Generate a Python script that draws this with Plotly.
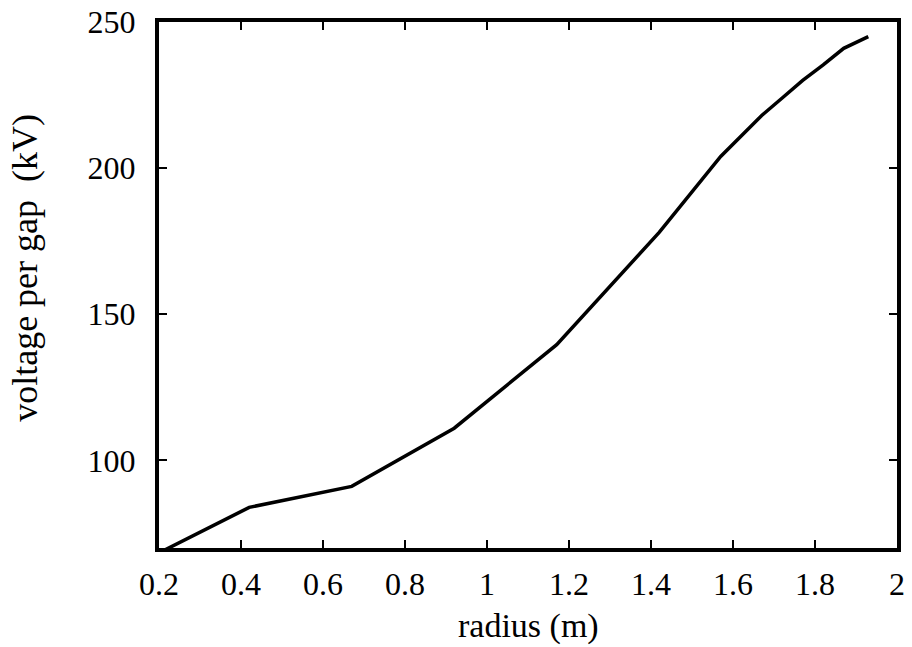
import plotly.graph_objects as go

radius = [0.17, 0.42, 0.67, 0.92, 1.17, 1.42, 1.57, 1.62, 1.67, 1.72, 1.77, 1.82, 1.87, 1.93]
voltage = [66.2, 83.9, 91.1, 111.0, 139.6, 178.0, 204.0, 211.0, 218.0, 224.0, 230.0, 235.3, 241.0, 245.0]

x_ticks = [0.2, 0.4, 0.6, 0.8, 1, 1.2, 1.4, 1.6, 1.8, 2]
y_ticks = [100, 150, 200, 250]

x_title = "radius (m)"
y_title = "voltage per gap\u00a0 (kV)"

FONT = "'Liberation Serif', 'Times New Roman', 'DejaVu Serif', serif"

fig = go.Figure()
fig.add_trace(go.Scatter(x=radius, y=voltage, mode="lines",
                         line=dict(color="black", width=3.5), showlegend=False))

axis_common = dict(showgrid=False, zeroline=False, showline=True, linecolor="black",
                   linewidth=4, mirror="allticks", ticks="inside", ticklen=8,
                   tickwidth=2, tickcolor="black", automargin=False,
                   tickfont=dict(family=FONT, size=32, color="black"))

fig.update_xaxes(range=[0.2, 2], tickvals=x_ticks, ticktext=[str(v) for v in x_ticks],
                 ticklabelstandoff=5, **axis_common)
fig.update_yaxes(range=[70, 250], tickvals=y_ticks,
                 ticklabelstandoff=13, **axis_common)

fig.add_annotation(text=x_title, xref="paper", yref="paper", x=0.5, y=-0.148,
                   xanchor="center", yanchor="middle", showarrow=False,
                   font=dict(family=FONT, size=34, color="black"))
fig.add_annotation(text=y_title, xref="paper", yref="paper", x=-0.182, y=0.532,
                   xanchor="center", yanchor="middle", showarrow=False, textangle=-90,
                   font=dict(family=FONT, size=36, color="black"))

fig.update_layout(width=912, height=647, margin=dict(l=159, r=15, t=22, b=99, autoexpand=False),
                  plot_bgcolor="white", paper_bgcolor="white",
                  font=dict(family=FONT, color="black"))

fig.write_html("out.html")
